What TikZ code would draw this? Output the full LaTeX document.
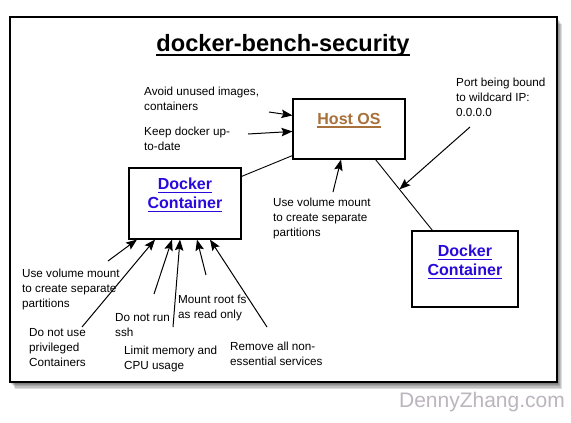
\documentclass[tikz,border=0pt]{standalone}
\usepackage{fontspec}
\setmainfont{Liberation Sans}
\usetikzlibrary{arrows.meta,calc}
\definecolor{hostbrown}{RGB}{168,112,58}
\definecolor{linkblue}{RGB}{40,10,220}
\definecolor{markgray}{RGB}{188,180,190}
\newsavebox\lnkbox
\newcommand\lnk[3]{\sbox\lnkbox{#3}\rlap{\rule[-\dimexpr#1+#2\relax]{\wd\lnkbox}{#2}}\usebox\lnkbox}
\begin{document}
\begin{tikzpicture}[x=1pt, y=-1pt,
  note/.style={anchor=north west, align=left, inner sep=0pt, font=\fontsize{11.7}{15}\selectfont},
  box/.style={draw, line width=1.1pt, fill=white, inner sep=0pt},
  boxlbl/.style={anchor=north, align=center, inner sep=0pt, font=\fontsize{16}{19}\selectfont\bfseries},
  arr/.style={line width=1pt, -{Stealth[length=11pt, width=8.5pt, inset=2pt]}},
  link/.style={line width=0.9pt}]
\useasboundingbox (0, 0) rectangle (571, 423);
\fill[white] (0, 0) rectangle (571, 423);
\foreach \s/\t in {1/2, 2/3, 3/4, 4/6, 5/7}
  \fill[black, opacity=0.13] (10+\s, 17+\t) rectangle (557+\s, 382+\t);
\draw[line width=1.4pt, fill=white] (10, 17) rectangle (557, 382);
\node[anchor=base, inner sep=0pt, font=\fontsize{23.6}{28}\selectfont\bfseries] (title) at (283, 51) {\lnk{2.5pt}{2pt}{docker-bench-security}};
\node[box, minimum width=112pt, minimum height=60pt] (host) at (349, 129) {};
\node[box, minimum width=112pt, minimum height=71pt] (cont) at (185, 203.5) {};
\node[box, minimum width=106pt, minimum height=76pt] (rcont) at (465, 269) {};
\node[boxlbl, text=hostbrown] (hostlbl) at ([yshift=-14.5pt]host.north) {\lnk{2pt}{1.3pt}{Host OS}};
\node[boxlbl, text=linkblue] (contlbl) at ([yshift=-10.5pt]cont.north) {\lnk{2pt}{1.3pt}{Docker}\\\lnk{2pt}{1.3pt}{Container}};
\node[boxlbl, text=linkblue] (rcontlbl) at ([yshift=-14.5pt]rcont.north) {\lnk{2pt}{1.3pt}{Docker}\\\lnk{2pt}{1.3pt}{Container}};
\node[note] (avoid) at (144, 86.5) {Avoid unused images,\\containers};
\node[note] (keep) at (144, 126.5) {Keep docker up-\\to-date};
\node[note] (port) at (456, 77.5) {Port being bound\\to wildcard IP:\\0.0.0.0};
\node[note] (volhost) at (273, 198) {Use volume mount\\to create separate\\partitions};
\node[note] (volcont) at (22, 268.5) {Use volume mount\\to create separate\\partitions};
\node[note] (priv) at (29, 328.5) {Do not use\\privileged\\Containers};
\node[note] (ssh) at (115, 313.5) {Do not run\\ssh};
\node[note] (limit) at (124, 345.5) {Limit memory and\\CPU usage};
\node[note] (mount) at (178, 294.5) {Mount root fs\\as read only};
\node[note] (remove) at (230, 341.5) {Remove all non-\\essential services};
\coordinate (hs) at ([xshift=-30pt]host.south east);
\coordinate (rt) at ([xshift=21pt]rcont.north west);
\draw[link] ([yshift=-9pt]cont.north east) -- ([yshift=4pt]host.south west);
\draw[link] (hs) -- (rt);
\coordinate (avoidtail) at (269, 112);
\coordinate (keeptail) at (248, 134);
\coordinate (porttail) at (470, 127);
\coordinate (volhosttail) at (333, 192);
\coordinate (volconttail) at (108, 261);
\coordinate (privtail) at (82, 327);
\coordinate (sshtail) at (154, 294);
\coordinate (limittail) at (173, 327);
\coordinate (mounttail) at (206, 275);
\coordinate (removetail) at (267, 327);
\draw[arr] (avoidtail) -- ([yshift=-17pt]host.north west);
\draw[arr] (keeptail) -- ([yshift=-33pt]host.north west);
\draw[arr] (porttail) -- ($(hs)!0.42!(rt)$);
\draw[arr] (volhosttail) -- ([xshift=-8pt]host.south);
\draw[arr] (volconttail) -- ([xshift=-48pt]cont.south);
\draw[arr] (privtail) -- ([xshift=-30pt]cont.south);
\draw[arr] (sshtail) -- ([xshift=-13pt]cont.south);
\draw[arr] (limittail) -- ([xshift=-5pt]cont.south);
\draw[arr] (mounttail) -- ([xshift=12pt]cont.south);
\draw[arr] (removetail) -- ([xshift=25pt]cont.south);
\node[anchor=base, inner sep=0pt, text=markgray, font=\fontsize{21}{25}\selectfont] (mark) at (482, 407) {DennyZhang.com};
\end{tikzpicture}
\end{document}
